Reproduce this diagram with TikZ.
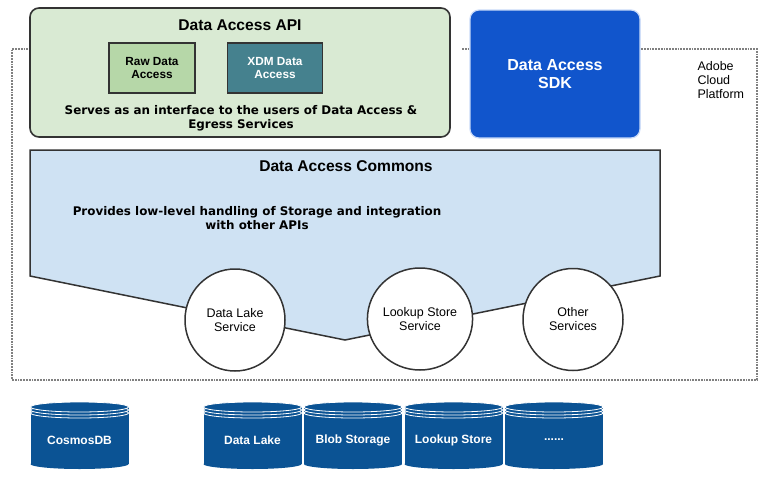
\documentclass[tikz,border=0pt]{standalone}
\usepackage{fontspec}
\setmainfont{Liberation Sans}
\newfontfamily\verdfont{DejaVu Sans}
\usetikzlibrary{shapes.geometric,positioning}
\definecolor{apigreen}{HTML}{D9EAD3}
\definecolor{rawgreen}{HTML}{B6D7A8}
\definecolor{xdmteal}{HTML}{45818E}
\definecolor{sdkblue}{HTML}{1155CC}
\definecolor{sdkedge}{HTML}{C9DAF8}
\definecolor{commonsblue}{HTML}{CFE2F3}
\definecolor{dbblue}{HTML}{0B5394}
\definecolor{edgegray}{HTML}{333333}
\definecolor{dotgray}{HTML}{808080}
\tikzset{
  platform/.style={draw=dotgray, line width=2.2pt, dash pattern=on 1.8pt off 1pt},
  apibox/.style={draw=edgegray, fill=apigreen, line width=1.6pt, rounded corners=9pt, minimum width=420pt, minimum height=129pt},
  subbox/.style={draw=edgegray, line width=1.5pt, minimum height=50pt, align=center, font=\bfseries\fontsize{11.8}{13.5}\selectfont},
  sdkbox/.style={draw=sdkedge, fill=sdkblue, line width=1.2pt, rounded corners=9pt, minimum width=170pt, minimum height=128pt, align=center, text=white, font=\bfseries\fontsize{16}{17.5}\selectfont},
  titletext/.style={font=\bfseries\fontsize{15.6}{18}\selectfont},
  notetext/.style={align=center, font=\verdfont\bfseries\fontsize{11.9}{13.8}\selectfont},
  svc/.style={ellipse, draw=edgegray, fill=white, line width=1.5pt, minimum width=100pt, minimum height=102pt, align=center, inner sep=0pt, font=\fontsize{12.5}{14}\selectfont},
  dbtext/.style={text=white, font=\bfseries\fontsize{12}{14}\selectfont}
}
\begin{document}
\begin{tikzpicture}[x=1pt,y=-1pt]
\useasboundingbox (0,0) rectangle (766,490);
% cloud platform boundary
\draw[platform] (462,49) -- (757,49) -- (757,380) -- (12,380) -- (12,49) -- (30,49);
\node[align=left, anchor=west, font=\fontsize{12.5}{14}\selectfont] (acp) at (694,80) {Adobe\\Cloud\\Platform};

% api layer
\node[apibox] (api) at (240,72.5) {};
\node[titletext] (apititle) at (240,25) {Data Access API};
\node[subbox, fill=rawgreen, minimum width=86pt] (raw) at (152,68) {Raw Data\\Access};
\node[subbox, fill=xdmteal, text=white, minimum width=95pt, right=31pt of raw] (xdm) {XDM Data\\Access};
\node[notetext] (apinote) at (241,118) {Serves as an interface to the users of Data Access \&\\Egress Services};

\node[sdkbox] (sdk) at (555,74) {Data Access\\SDK};

% commons layer
\draw[draw=edgegray, fill=commonsblue, line width=1.5pt] (30,150) -- (660,150) -- (660,276) -- (345,340) -- (30,276) -- cycle;
\node[titletext] (commons) at (346,166) {Data Access Commons};
\node[notetext] (commonsnote) at (257,218) {Provides low-level handling of Storage and integration\\with other APIs};

\node[svc] (lakesvc) at (235,320) {Data Lake\\Service};
\node[svc] (lookupsvc) at (420,319) {Lookup Store\\Service};
\node[svc] (othersvc) at (573,319.5) {Other\\Services};

% storage
\foreach \cx/\lbl/\nm in {79.5/CosmosDB/cosmos, 252.5/Data Lake/lake, 353/Blob Storage/blob, 453.5/Lookup Store/lookup, 554/{......}/more}
{
\fill[dbblue] (\cx-49,407) rectangle (\cx+49,464);
\fill[dbblue] (\cx,464) ellipse [x radius=49pt, y radius=5pt];
\foreach \dy in {6,3,0}
\filldraw[fill=dbblue, draw=white, line width=0.8pt] (\cx,407+\dy) ellipse [x radius=49pt, y radius=5pt];
\node[dbtext] (\nm) at (\cx,440) {\lbl};
}
\end{tikzpicture}
\end{document}
